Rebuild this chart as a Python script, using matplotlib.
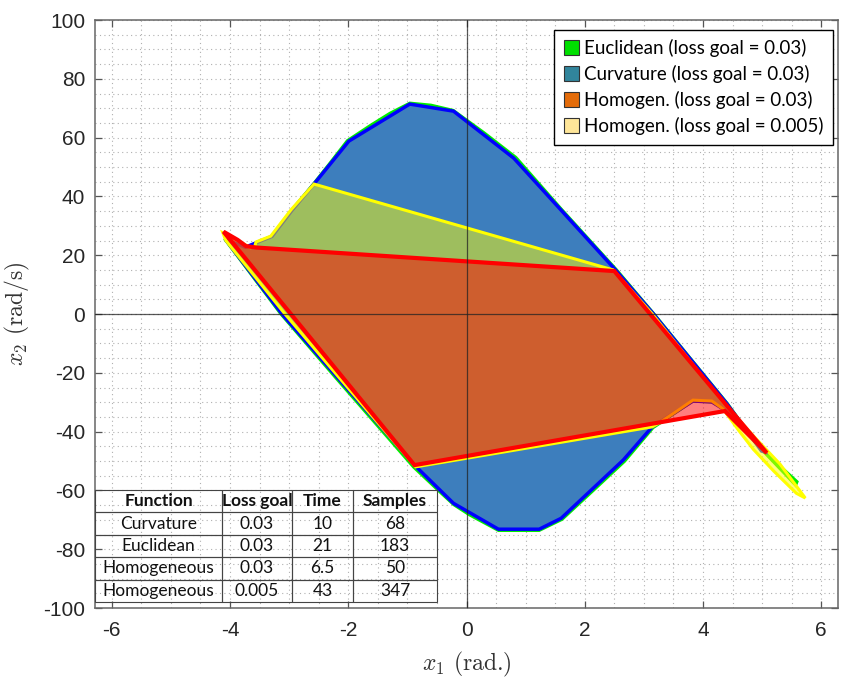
import numpy as np
import matplotlib
matplotlib.use("Agg")
import matplotlib.pyplot as plt
from matplotlib.patches import Polygon, Patch
from matplotlib.ticker import MultipleLocator

plt.rcParams['axes.unicode_minus'] = False
plt.rcParams['mathtext.fontset'] = 'cm'
plt.rcParams['font.family'] = ['Liberation Sans', 'DejaVu Sans']

# ---------------- data ----------------
# Euclidean (loss goal = 0.03)
x_euc = [-4.10, -3.15, -2.23, -0.90, -0.42, -0.22, 0.05, 0.54, 1.23, 1.62, 2.20, 2.68, 3.16, 3.83,
         4.15, 4.40, 5.10, 5.60, 5.57, 5.00, 4.42, 3.17, 2.54, 1.60, 0.84, 0.30, -0.22, -0.60, -0.96,
         -1.30, -1.62, -2.02, -2.32, -2.60, -2.97, -3.31, -3.56, -3.75, -4.10]
y_euc = [25.5, 0.0, -21.5, -52.2, -61.3, -65.0, -68.5, -73.8, -73.8, -70.0, -59.2, -50.2, -38.8,
         -29.8, -30.1, -33.0, -47.8, -57.0, -58.5, -46.5, -30.4, 0.3, 15.2, 36.0, 53.4, 61.8, 69.4,
         71.2, 71.9, 68.4, 64.4, 59.1, 51.3, 44.2, 35.2, 26.3, 24.3, 22.6, 25.5]

# Curvature (loss goal = 0.03)
x_cur = [-4.08, -3.12, -2.19, -0.87, -0.22, 0.54, 1.23, 1.60, 2.65, 3.14, 3.83, 4.15, 4.38, 5.10,
         4.99, 4.40, 3.15, 2.52, 0.80, -0.22, -0.96, -1.99, -2.58, -2.95, -3.29, -3.55, -3.74, -4.08]
y_cur = [25.5, 0.0, -21.4, -51.6, -64.4, -73.2, -73.2, -69.5, -49.7, -38.4, -29.6, -29.9, -32.8,
         -47.3, -46.6, -30.4, 0.3, 15.0, 53.0, 69.0, 71.4, 58.8, 44.2, 35.3, 26.4, 24.3, 22.7, 25.5]

# Homogeneous (loss goal = 0.005)
x_h5 = [-2.58, 2.48, 3.13, 4.36, 4.90, 5.30, 5.73, 5.58, 5.20, 4.85, 4.60, 4.34, 4.15, 3.83, 3.28,
        3.14, -0.86, -2.16, -3.07, -4.07, -4.12, -3.87, -3.65, -3.58, -3.56, -3.31, -2.97, -2.58]
y_h5 = [44.2, 15.0, 0.3, -30.5, -42.5, -51.0, -62.6, -61.0, -53.5, -46.0, -39.5, -32.3, -29.6,
        -29.3, -36.8, -38.4, -52.0, -21.5, 0.0, 25.0, 27.6, 25.0, 22.5, 23.1, 24.5, 26.5, 35.4, 44.2]

# Homogeneous (loss goal = 0.03)
x_h3 = [-4.11, -3.87, -3.73, -3.55, 2.50, 4.45, 5.08, 4.37, -0.88, -4.11]
y_h3 = [28.0, 25.2, 23.1, 22.6, 14.6, -32.3, -47.3, -33.0, -51.4, 28.0]

legend_labels = ["Euclidean (loss goal = 0.03)", "Curvature (loss goal = 0.03)",
                 "Homogen. (loss goal = 0.03)", "Homogen. (loss goal = 0.005)"]
legend_colors = ["#00e000", "#31859c", "#e46c0a", "#ffe699"]

table_header = ["Function", "Loss goal", "Time", "Samples"]
table_functions = ["Curvature", "Euclidean", "Homogeneous", "Homogeneous"]
table_loss = ["0.03", "0.03", "0.03", "0.005"]
table_time = ["10", "21", "6.5", "43"]
table_samples = ["68", "183", "50", "347"]

# ---------------- figure ----------------
fig = plt.figure(figsize=(8.5, 6.79), dpi=100)
ax = fig.add_axes([95/850, 71/679, 743/850, 588/679])

ax.set_xlim(-2*np.pi, 2*np.pi)
ax.set_ylim(-100, 100)

ax.xaxis.set_major_locator(MultipleLocator(2))
ax.xaxis.set_minor_locator(MultipleLocator(0.5))
ax.yaxis.set_major_locator(MultipleLocator(20))
ax.yaxis.set_minor_locator(MultipleLocator(5))
ax.grid(which='both', linestyle=(0, (1, 3)), color='#b0b0b0', linewidth=0.8)
ax.set_axisbelow(True)

ax.tick_params(which='major', direction='in', length=5, width=0.9, color='#555555',
               top=True, right=True, labelsize=15, labelcolor='#262626', pad=7)
ax.tick_params(axis='x', which='major', pad=9)
ax.tick_params(which='minor', length=0, top=True, right=True)
for s in ax.spines.values():
    s.set_color('#666666')
    s.set_linewidth(1.1)

ax.add_patch(Polygon(np.column_stack([x_euc, y_euc]), closed=True,
                     facecolor='#00ff00', edgecolor='#00ee00', linewidth=1.5, zorder=2))
ax.add_patch(Polygon(np.column_stack([x_cur, y_cur]), closed=True,
                     facecolor='#3d7ebd', edgecolor='#0000ff', linewidth=2.5, zorder=3))
ax.add_patch(Polygon(np.column_stack([x_h5, y_h5]), closed=True,
                     facecolor=(1, 1, 0, 0.5), edgecolor=(1, 1, 0, 1), linewidth=2.2, zorder=4))
ax.add_patch(Polygon(np.column_stack([x_h3, y_h3]), closed=True,
                     facecolor=(1, 0, 0, 0.5), edgecolor=(1, 0, 0, 1), linewidth=3, zorder=5))

ax.axhline(0, color='#222222', linewidth=0.9, alpha=0.75, zorder=6)
ax.axvline(0, color='#222222', linewidth=0.9, alpha=0.75, zorder=6)

ax.set_xlabel(r'$x_1$ (rad.)', fontsize=17, color='#333333', fontfamily='cmr10')
ax.set_ylabel(r'$x_2$ (rad/s)', fontsize=17, color='#333333', fontfamily='cmr10')
ax.xaxis.set_label_coords(0.5, -0.072)
ax.yaxis.set_label_coords(-0.085, 0.5)

handles = [Patch(facecolor=c, edgecolor='#333333', linewidth=0.8) for c in legend_colors]
leg = ax.legend(handles, legend_labels, loc='upper right', bbox_to_anchor=(0.9933, 0.983),
                borderaxespad=0, fancybox=False, framealpha=1, edgecolor='black',
                prop={'family': ['Lato', 'DejaVu Sans'], 'size': 13.5},
                handlelength=0.85, handleheight=0.85, handletextpad=0.25,
                labelspacing=0.42, borderpad=0.5)
leg.get_frame().set_linewidth(1.0)
leg.set_zorder(10)

cell_text = [list(r) for r in zip(table_functions, table_loss, table_time, table_samples)]
tab = ax.table(cellText=cell_text, colLabels=table_header, cellLoc='center',
               colWidths=[127, 70, 61, 84],
               bbox=[0, 6/588, 342/743, 112/588], zorder=9)
tab.auto_set_font_size(False)
for (r, c), cell in tab.get_celld().items():
    cell.set_facecolor('none')
    cell.set_edgecolor('#444444')
    cell.set_linewidth(0.8)
    t = cell.get_text()
    t.set_fontfamily(['Lato', 'DejaVu Sans'])
    t.set_fontsize(12.5)
    t.set_color('#111111')
    if r == 0:
        t.set_fontweight('bold')

fig.savefig('out.png', dpi=100)
